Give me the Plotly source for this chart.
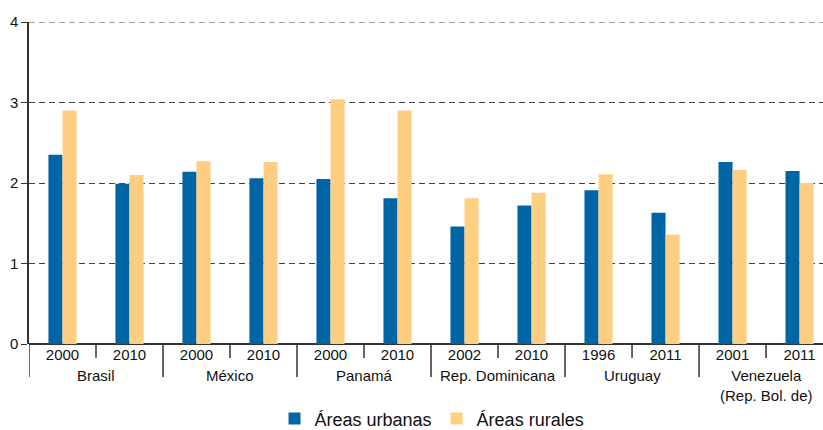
import plotly.graph_objects as go

countries = ["Brasil", "México", "Panamá", "Rep. Dominicana", "Uruguay", "Venezuela<br>(Rep. Bol. de)"]
years = ["2000", "2010", "2000", "2010", "2000", "2010", "2002", "2010", "1996", "2011", "2001", "2011"]
urbanas = [2.35, 1.99, 2.14, 2.06, 2.05, 1.81, 1.46, 1.72, 1.91, 1.63, 2.26, 2.15]
rurales = [2.90, 2.10, 2.27, 2.26, 3.04, 2.90, 1.81, 1.88, 2.11, 1.36, 2.16, 2.00]
y_ticks = [0, 1, 2, 3, 4]

BLUE = "#0065A5"
ORANGE = "#FECF83"
FONT = "Liberation Sans, Arial, sans-serif"
TXT = "#111111"
W, H = 823, 430
ML, MR, MT, MB = 29, 0, 22, 86
PLOT_H = H - MT - MB

idx = list(range(len(years)))

fig = go.Figure()
fig.add_trace(go.Bar(x=idx, y=urbanas, name="Áreas urbanas", marker=dict(color=BLUE, line=dict(width=0))))
fig.add_trace(go.Bar(x=idx, y=rurales, name="Áreas rurales", marker=dict(color=ORANGE, line=dict(width=0))))

shapes = []
# year separators (short)
for i in range(1, len(years)):
    if i % 2 == 1:
        shapes.append(dict(type="line", xref="x", yref="paper",
                           x0=i - 0.5, x1=i - 0.5, y0=0, y1=-14 / PLOT_H, line=dict(color="#333", width=1.5)))
# country separators (long)
for k in range(len(countries)):
    shapes.append(dict(type="line", xref="x", yref="paper",
                       x0=2 * k - 0.5, x1=2 * k - 0.5, y0=0, y1=-33 / PLOT_H, line=dict(color="#333", width=1.5)))
# top gridline
shapes.append(dict(type="line", xref="paper", yref="y", x0=0, x1=1, y0=4, y1=4,
                   line=dict(color="#444", width=1, dash="6px,4px")))

annotations = []
for k, c in enumerate(countries):
    annotations.append(dict(x=2 * k + 0.5, xref="x", y=0, yref="paper", yanchor="top", yshift=-21,
                            text=c, showarrow=False, font=dict(family=FONT, size=15, color=TXT)))

fig.update_layout(
    width=W, height=H,
    margin=dict(l=ML, r=MR, t=MT, b=MB, autoexpand=False),
    paper_bgcolor="white", plot_bgcolor="white",
    barmode="group", bargap=0.58, bargroupgap=0,
    font=dict(family=FONT, size=15, color=TXT),
    showlegend=True,
    legend=dict(orientation="h", x=0.5076, xanchor="center", y=-0.175, yanchor="top",
                font=dict(family=FONT, size=18, color=TXT), itemwidth=30, traceorder="normal"),
    shapes=shapes,
    annotations=annotations,
)
fig.update_xaxes(
    range=[-0.5, 11.35], tickmode="array", tickvals=idx, ticktext=years,
    ticks="", showgrid=False, zeroline=False, showline=False, automargin=False,
    tickfont=dict(family=FONT, size=15, color=TXT),
)
fig.update_yaxes(
    range=[0, 4], tickmode="array", tickvals=y_ticks, ticktext=[str(v) for v in y_ticks],
    showgrid=True, gridcolor="#444", griddash="6px,4px", gridwidth=1,
    zeroline=True, zerolinecolor="#333", zerolinewidth=1.5,
    showline=True, linecolor="#333", linewidth=1.5, automargin=False,
    ticks="outside", ticklen=6, tickcolor="#333",
    tickfont=dict(family=FONT, size=15, color=TXT),
)

fig.write_html("out.html", config={"displayModeBar": False},
               post_script="document.body.style.margin='0';document.body.style.overflow='hidden';")
